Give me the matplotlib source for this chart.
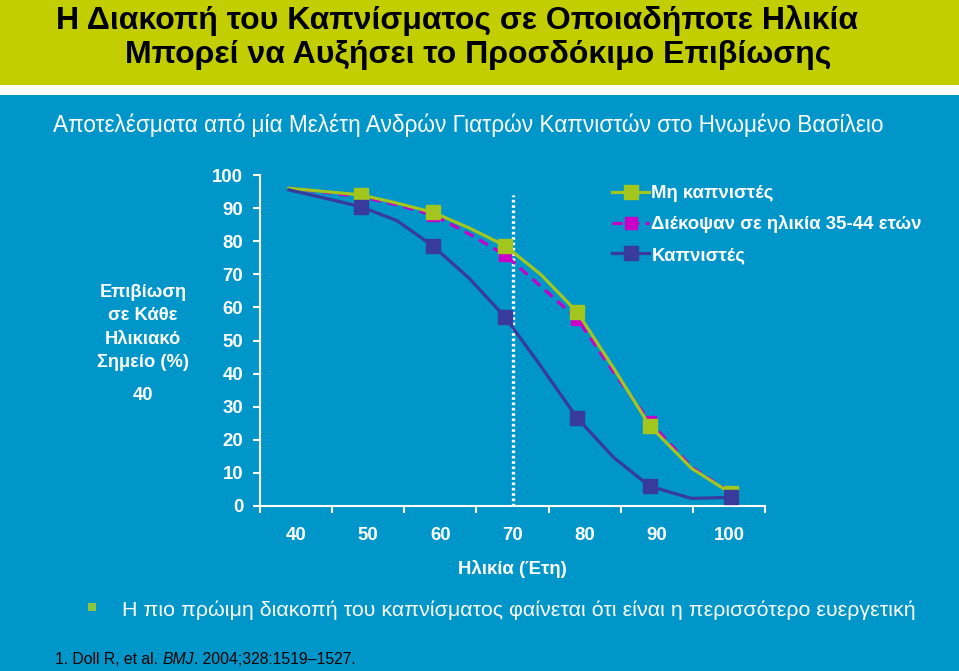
import matplotlib
matplotlib.use("Agg")
import matplotlib.pyplot as plt
from matplotlib import font_manager
from matplotlib.patches import Rectangle

# ---------------- data ----------------
ages = [39, 44, 49, 54, 59, 64, 69, 74, 79, 84, 89, 94.8, 100.3]
non_smokers = [96.0, 95.0, 94.0, 91.5, 88.7, 84.0, 78.6, 69.8, 58.5, 41.7, 24.3, 11.4, 3.8]
quit_35_44 = [96.0, 94.8, 93.4, 91.0, 87.9, 82.2, 75.8, 66.2, 56.5, 40.5, 25.5, 11.8, 3.9]
smokers = [95.5, 93.0, 90.4, 86.2, 78.5, 68.8, 57.0, 42.0, 26.5, 14.7, 6.0, 2.3, 2.6]
marker_idx = [2, 4, 6, 8, 10, 12]
series_labels = ["Μη καπνιστές", "Διέκοψαν σε ηλικία 35-44 ετών", "Καπνιστές"]
x_tick_labels = [40, 50, 60, 70, 80, 90, 100]
y_ticks = [0, 10, 20, 30, 40, 50, 60, 70, 80, 90, 100]
quit_age_line = 70
quit_line_top = 94

title_lines = ["Η Διακοπή του Καπνίσματος σε Οποιαδήποτε Ηλικία",
               "Μπορεί να Αυξήσει το Προσδόκιμο Επιβίωσης"]
subtitle = "Αποτελέσματα από μία Μελέτη Ανδρών Γιατρών Καπνιστών στο Ηνωμένο Βασίλειο"
ylabel_text = "Επιβίωση\nσε Κάθε\nΗλικιακό\nΣημείο (%)"
ylabel_extra = "40"
xlabel_text = "Ηλικία (Έτη)"
bullet_text = "Η πιο πρώιμη διακοπή του καπνίσματος φαίνεται ότι είναι η περισσότερο ευεργετική"
foot_parts = ["1. Doll R, et al. ", "BMJ", ". 2004;328:1519–1527."]

# ---------------- style ----------------
names = {f.name for f in font_manager.fontManager.ttflist}
base = "Liberation Sans" if "Liberation Sans" in names else "DejaVu Sans"
plt.rcParams['font.family'] = [base, "DejaVu Sans"]

BLUE_BG = "#0096C9"
BAND = "#C2CE00"
GREEN = "#A2C61E"
MAGENTA = "#C800C8"
NAVY = "#383A9C"
WHITE = "white"
FS = 13.4

W, H = 959, 671
fig = plt.figure(figsize=(W / 100, H / 100), dpi=100)
fig.patch.set_facecolor(BLUE_BG)

def fx(px):
    return px / W

def fy(py):
    return 1 - py / H

# top band and white strip
fig.patches.append(Rectangle((0, fy(85)), 1, 85 / H, transform=fig.transFigure,
                             facecolor=BAND, edgecolor='none', zorder=0))
fig.patches.append(Rectangle((0, fy(95)), 1, 10 / H, transform=fig.transFigure,
                             facecolor=WHITE, edgecolor='none', zorder=0))

fig.text(fx(457), fy(21), title_lines[0], ha='center', va='center', fontsize=23,
         color='black', fontweight='bold')
fig.text(fx(478), fy(55), title_lines[1], ha='center', va='center', fontsize=23,
         color='black', fontweight='bold')
fig.text(fx(468), fy(125), subtitle, ha='center', va='center', fontsize=16.3,
         color=WHITE)

# ---------------- axes ----------------
ax = fig.add_axes([fx(260), fy(506), fx(765) - fx(260), (506 - 175) / H])
ax.set_facecolor('none')
ax.set_xlim(35, 105)
ax.set_ylim(0, 100)

def plot_series(vals, color, z, label, dashed=False, msize=9.5):
    ls = (0, (3.2, 2.0)) if dashed else '-'
    return ax.plot(ages, vals, color=color, lw=2.3, linestyle=ls, zorder=z,
                   marker='s', markersize=msize, markevery=marker_idx, label=label,
                   markerfacecolor=color, markeredgecolor=color, clip_on=False)[0]

h_quit = plot_series(quit_35_44, MAGENTA, 3, series_labels[1], dashed=True, msize=9)
h_non = plot_series(non_smokers, GREEN, 4, series_labels[0], msize=10)
h_smk = plot_series(smokers, NAVY, 5, series_labels[2], msize=9.5)

ax.plot([quit_age_line, quit_age_line], [0, quit_line_top], color=WHITE, lw=2.4,
        linestyle=(0, (0.8, 0.8)), zorder=2)

for s in ['top', 'right']:
    ax.spines[s].set_visible(False)
for s in ['left', 'bottom']:
    ax.spines[s].set_color(WHITE)
    ax.spines[s].set_linewidth(1.5)

ax.set_yticks(y_ticks)
ax.set_yticklabels([str(v) for v in y_ticks])
ax.tick_params(axis='y', colors=WHITE, length=5, width=1.5, direction='out', pad=7,
               labelsize=FS)
for t in ax.get_yticklabels():
    t.set_fontweight('bold')
    t.set_color(WHITE)

ax.set_xticks([35 + 10 * i for i in range(8)])
ax.set_xticklabels([])
ax.set_xticks(x_tick_labels, minor=True)
ax.set_xticklabels([str(v) for v in x_tick_labels], minor=True)
ax.tick_params(axis='x', which='major', colors=WHITE, length=5, width=1.5, direction='out')
ax.tick_params(axis='x', which='minor', length=0, pad=15, labelsize=FS, labelcolor=WHITE)
for t in ax.get_xticklabels(minor=True):
    t.set_fontweight('bold')

ax.set_xlabel(xlabel_text, color=WHITE, fontsize=FS, fontweight='bold', labelpad=12)

# y label block
fig.text(fx(143), fy(327.5), ylabel_text, ha='center', va='center', fontsize=13.2,
         color=WHITE, linespacing=1.47, fontweight='bold')
fig.text(fx(143), fy(395), ylabel_extra, ha='center', va='center', fontsize=13.2,
         color=WHITE, fontweight='bold')

# legend
leg = ax.legend([h_non, h_quit, h_smk], series_labels, frameon=False,
                loc='upper left', bbox_to_anchor=(fx(612), fy(185)),
                bbox_transform=fig.transFigure, handlelength=2.0, handletextpad=0.12,
                labelspacing=0.72, borderpad=0, borderaxespad=0, fontsize=FS)
for t in leg.get_texts():
    t.set_color(WHITE)
    t.set_fontweight('bold')

# bullet and remark
fig.patches.append(Rectangle((fx(88), fy(611)), 8 / W, 8 / H, transform=fig.transFigure,
                             facecolor="#8CC63E", edgecolor='none'))
fig.text(fx(122), fy(610), bullet_text, ha='left', va='center', fontsize=15.4,
         color=WHITE)

# footnote (plain + italic + plain, placed one after another)
renderer = fig.canvas.get_renderer()
xpos = fx(55)
for i, part in enumerate(foot_parts):
    t = fig.text(xpos, fy(660), part, ha='left', va='center', fontsize=11.3,
                 color='black', fontstyle='italic' if i == 1 else 'normal')
    bb = t.get_window_extent(renderer=renderer)
    xpos = bb.x1 / W

fig.savefig("out.png", dpi=100, facecolor=fig.get_facecolor())
